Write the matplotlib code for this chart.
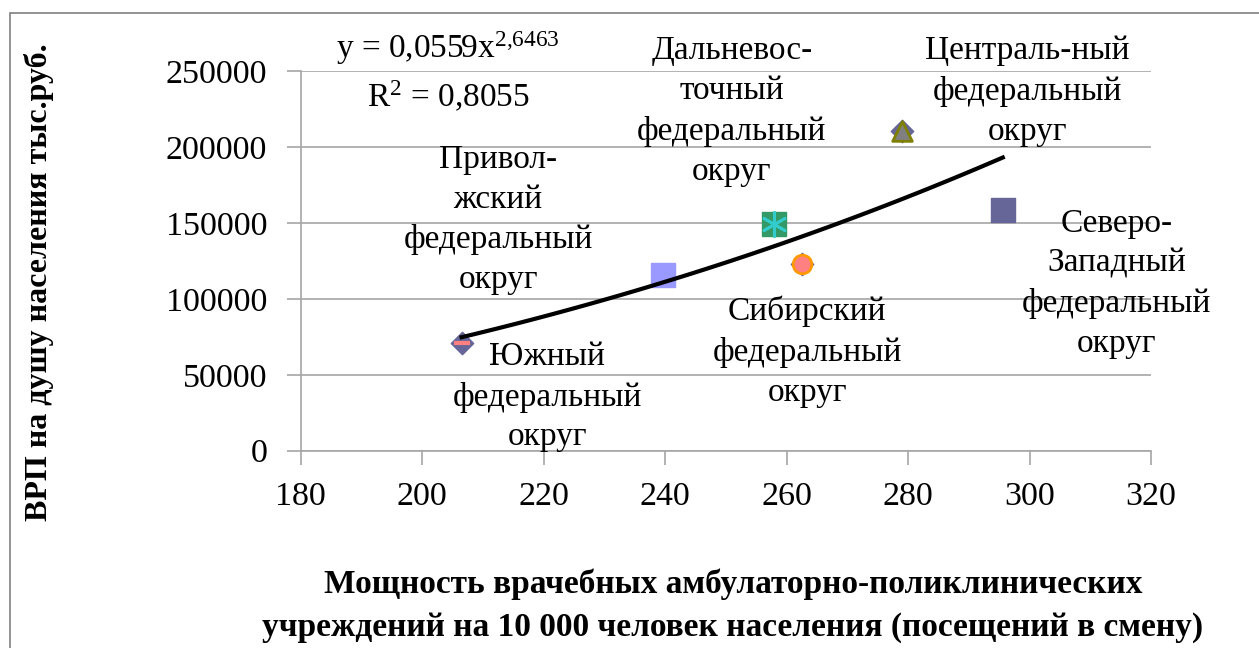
import numpy as np
import matplotlib.pyplot as plt
from matplotlib.patches import Rectangle

plt.rcParams['font.family'] = ['Liberation Serif', 'DejaVu Serif']
plt.rcParams['mathtext.fontset'] = 'custom'
plt.rcParams['mathtext.rm'] = 'Liberation Serif'
plt.rcParams['mathtext.it'] = 'Liberation Serif:italic'

# data
districts = ['Южный', 'Приволжский', 'Дальневосточный',
             'Сибирский', 'Центральный', 'Северо-Западный']
capacity = [206.5, 239.7, 258.0, 262.5, 279.0, 295.6]
grp = [71200, 115400, 149500, 123200, 210200, 158800]

# power trendline coefficients shown on the chart
coef_a = 0.0559
coef_b = 2.6463

x_ticks = [180, 200, 220, 240, 260, 280, 300, 320]
y_ticks = [0, 50000, 100000, 150000, 200000, 250000]

fig = plt.figure(figsize=(12.59, 6.48), dpi=100)
ax = fig.add_axes([0.2388, 0.3045, 0.9142 - 0.2388, 0.8904 - 0.3045])

# chart area border
fig.patches.append(Rectangle((10 / 1259, -0.1), 1.2, 0.98 + 0.1,
                             transform=fig.transFigure, fill=False,
                             edgecolor='#808080', linewidth=1.2))

# first series: all points as diamonds
ax.scatter(capacity, grp, marker='D', s=130, color='#666699', zorder=3)

# separate series per district
ax.scatter(capacity[0], grp[0], marker='_', s=120, color='#FF8080',
           linewidths=3, zorder=4)
ax.scatter(capacity[1], grp[1], marker='s', s=300, color='#9999FF', zorder=4)
ax.scatter(capacity[2], grp[2], marker='s', s=300, color='#339966', zorder=4)
ax.scatter(capacity[2], grp[2], marker=(6, 2, 0), s=300, color='#33CCCC',
           linewidths=2, zorder=5)
ax.scatter(capacity[3], grp[3], marker='o', s=180, facecolor='#FF8080',
           edgecolor='#FF9900', linewidths=2, zorder=4)
ax.scatter(capacity[4], grp[4], marker='^', s=200, facecolor='#808080',
           edgecolor='#808000', linewidths=2, zorder=4)
ax.scatter(capacity[5], grp[5], marker='s', s=300, color='#666699', zorder=4)

# trendline
xs = np.linspace(min(capacity), max(capacity), 100)
ax.plot(xs, coef_a * xs ** coef_b, color='black', linewidth=3, zorder=6)

ax.set_xlim(180, 320)
ax.set_ylim(0, 250000)
ax.set_xticks(x_ticks)
ax.set_yticks(y_ticks)
ax.grid(axis='y', color='#A6A6A6', linewidth=1.2)
ax.set_axisbelow(True)
for side in ['top', 'right']:
    ax.spines[side].set_visible(False)
for side in ['left', 'bottom']:
    ax.spines[side].set_color('#A6A6A6')
    ax.spines[side].set_linewidth(1.2)
ax.tick_params(axis='both', direction='out', length=10, width=1.2,
               color='#A6A6A6', labelsize=24.5)
ax.tick_params(axis='y', pad=14)
ax.tick_params(axis='x', pad=12)

txt = dict(fontsize=24, ha='center', va='center', linespacing=1.4,
           clip_on=False, zorder=7)
ax.text(204.3, 265000, 'y = 0,0559x$^{2{,}6463}$', **txt)
ax.text(204.3, 233000, 'R$^2$ = 0,8055', **txt)
ax.text(212.5, 152000, 'Привол-\nжский\nфедеральный\nокруг', **txt)
ax.text(220.6, 35400, 'Южный\nфедеральный\nокруг', **txt)
ax.text(251.0, 223400, 'Дальневос-\nточный\nфедеральный\nокруг', **txt)
ax.text(263.4, 65000, 'Сибирский\nфедеральный\nокруг', **txt)
ax.text(299.7, 236600, 'Централь-ный\nфедеральный\nокруг', **txt)
ax.text(314.3, 110000, 'Северо-\nЗападный\nфедеральный\nокруг', **txt)

fig.text(39 / 1259, 1 - 282 / 648, 'ВРП на душу населения тыс.руб.',
         rotation=90, ha='center', va='center', fontsize=23,
         fontweight='bold')
fig.text(733 / 1259, 1 - 606 / 648,
         'Мощность врачебных амбулаторно-поликлинических\n'
         'учреждений на 10 000 человек населения (посещений в смену)',
         ha='center', va='center', fontsize=24, fontweight='bold',
         linespacing=1.48)

fig.savefig('out.png', dpi=100)
